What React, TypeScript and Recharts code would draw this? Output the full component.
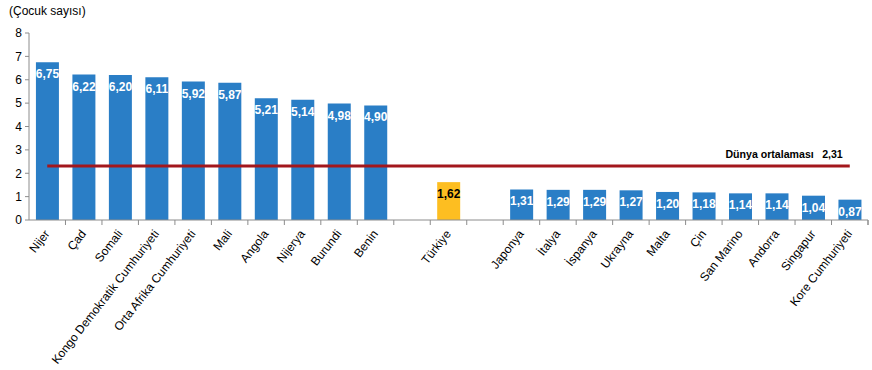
import * as React from 'react'
import { BarChart, Bar, XAxis, YAxis, Cell, LabelList, ReferenceLine } from 'recharts'

const countries = [
  'Nijer', 'Çad', 'Somali', 'Kongo Demokratik Cumhuriyeti', 'Orta Afrika Cumhuriyeti',
  'Mali', 'Angola', 'Nijerya', 'Burundi', 'Benin', '', 'Türkiye', ' ',
  'Japonya', 'İtalya', 'İspanya', 'Ukrayna', 'Malta', 'Çin', 'San Marino',
  'Andorra', 'Singapur', 'Kore Cumhuriyeti',
]
const children: (number | null)[] = [
  6.75, 6.22, 6.2, 6.11, 5.92, 5.87, 5.21, 5.14, 4.98, 4.9, null, 1.62, null,
  1.31, 1.29, 1.29, 1.27, 1.2, 1.18, 1.14, 1.14, 1.04, 0.87,
]
const highlight = 'Türkiye'
const worldAverage = 2.31
const worldLabel = 'Dünya ortalaması'
const yTicks = [0, 1, 2, 3, 4, 5, 6, 7, 8]

const BLUE = '#2A7EC6'
const ORANGE = '#FDBE21'
const RED = '#A3171C'
const AXIS = '#8C8C8C'
const FONT = '"Liberation Sans", Arial, sans-serif'

const W = 872
const H = 370
const M = { top: 33, right: 4, left: 0, bottom: 0 }
const Y_W = 29
const SLOT = (W - Y_W - M.left - M.right) / countries.length

const data = countries.map((name, i) => ({ name, value: children[i] }))
const fmt = (v: number) => v.toFixed(2).replace('.', ',')

function XTick(props: any) {
  const { x, y, payload, index } = props
  const label = String(payload.value).trim()
  const last = index === countries.length - 1
  return (
    <g>
      <line x1={x + SLOT / 2} y1={y} x2={x + SLOT / 2} y2={y + 5} stroke={AXIS} />
      {last ? <line x1={x + SLOT / 2} y1={y} x2={x + SLOT / 2} y2={y + 5} stroke={AXIS} /> : null}
      {label ? (
        <text
          transform={`translate(${x + 3},${y + 14}) rotate(-52)`}
          textAnchor="end"
          fontSize={12}
          fill="#000"
          fontFamily={FONT}
        >
          {label}
        </text>
      ) : null}
    </g>
  )
}

function ValueLabel(props: any) {
  const { x, y, width, value } = props
  const v = children[countries.indexOf(value)]
  if (v == null) return null
  const dark = value === highlight
  return (
    <text
      x={x + width / 2}
      y={y + 16}
      textAnchor="middle"
      fontSize={12}
      fontWeight="bold"
      fill={dark ? '#000' : '#fff'}
      fontFamily={FONT}
    >
      {fmt(v)}
    </text>
  )
}

function AverageLabel(props: any) {
  const { viewBox } = props
  const right = viewBox.x + viewBox.width - 7
  const base = viewBox.y - 8
  return (
    <g fontFamily={FONT} fontSize={10.6} fontWeight="bold" fill="#000">
      <text x={right - 29} y={base} textAnchor="end">{worldLabel}</text>
      <text x={right} y={base} textAnchor="end">{fmt(worldAverage)}</text>
    </g>
  )
}

export default function App() {
  return (
    <div style={{ position: 'absolute', left: 0, top: 0, width: W, height: H, background: '#fff' }}>
      <div
        style={{
          position: 'absolute',
          left: 9,
          top: 4,
          fontFamily: FONT,
          fontSize: 12,
          color: '#000',
        }}
      >
        (Çocuk sayısı)
      </div>
      <BarChart width={W} height={H} data={data} margin={M} barCategoryGap="19%">
        <XAxis
          dataKey="name"
          interval={0}
          height={H - 220}
          tickSize={0}
          tickMargin={0}
          tickLine={false}
          stroke={AXIS}
          tick={<XTick />}
        />
        <YAxis
          width={Y_W}
          domain={[0, 8]}
          ticks={yTicks}
          interval={0}
          tickSize={4}
          tickMargin={3}
          stroke={AXIS}
          tick={{ fill: '#000', fontSize: 12, fontFamily: FONT }}
        />
        <Bar dataKey="value" isAnimationActive={false}>
          {data.map((d, i) => (
            <Cell key={i} fill={d.name === highlight ? ORANGE : BLUE} />
          ))}
          <LabelList dataKey={(d: any) => d.name} content={<ValueLabel />} />
        </Bar>
        <ReferenceLine
          segment={[
            { x: countries[0], y: worldAverage },
            { x: countries[countries.length - 1], y: worldAverage },
          ]}
          stroke={RED}
          strokeWidth={3}
          label={<AverageLabel />}
        />
      </BarChart>
    </div>
  )
}
